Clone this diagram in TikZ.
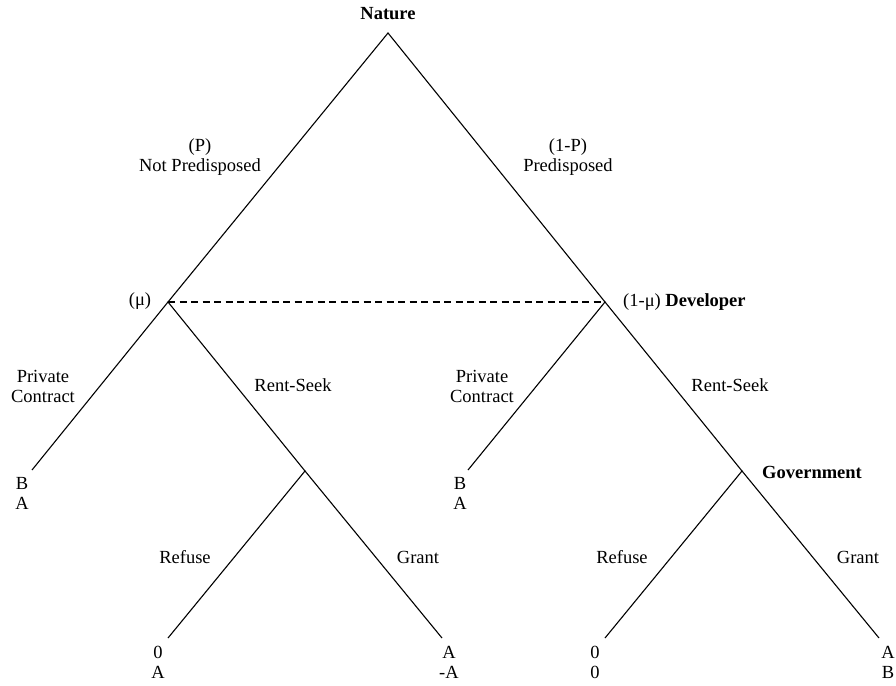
\documentclass[tikz,border=0pt]{standalone}
\usepackage{fontspec}
\setmainfont{Liberation Serif}
\begin{document}
\begin{tikzpicture}[x=1pt,y=-1pt,
  branch/.style={line width=1.1pt},
  info/.style={line width=1.1pt, dash pattern=on 7pt off 4.5pt},
  lbl/.style={inner sep=0pt, align=center, font=\fontsize{18.5}{20}\selectfont},
  pay/.style={lbl},
  player/.style={inner sep=0pt, font=\fontsize{18.5}{20}\selectfont\bfseries}]
\useasboundingbox (0,0) rectangle (896,685);
% vertices
\coordinate (N) at (388,33);
\coordinate (L) at (168,302);
\coordinate (R) at (605,302);
\coordinate (LPC) at (32,470);
\coordinate (RPC) at (468,470);
\coordinate (LG) at (305,471);
\coordinate (RG) at (742,471);
\coordinate (LRf) at (168,638);
\coordinate (LGr) at (442,638);
\coordinate (RRf) at (605,638);
\coordinate (RGr) at (879,638);
% branches
\draw[branch] (L) -- (N) -- (R);
\draw[branch] (LPC) -- (L) -- (LG);
\draw[branch] (LRf) -- (LG) -- (LGr);
\draw[branch] (RPC) -- (R) -- (RG);
\draw[branch] (RRf) -- (RG) -- (RGr);
\draw[info] (L) -- (R);
% players
\node[player] (nature) at (388,14) {Nature};
\node[lbl, anchor=west] (dev) at (623,302) {(1-μ) \textbf{Developer}};
\node[player, anchor=west] (gov) at (762,472) {Government};
\node[lbl] (mu) at (140,301) {(μ)};
% move labels
\node[lbl] (np) at (200,157) {(P)\\Not Predisposed};
\node[lbl] (pd) at (568,157) {(1-P)\\Predisposed};
\node[lbl] (pcl) at (43,386) {Private\\Contract};
\node[lbl] (pcr) at (482,386) {Private\\Contract};
\node[lbl] (rsl) at (293,385) {Rent-Seek};
\node[lbl] (rsr) at (730,385) {Rent-Seek};
\node[lbl] (rfl) at (185,557) {Refuse};
\node[lbl] (grl) at (418,557) {Grant};
\node[lbl] (rfr) at (622,557) {Refuse};
\node[lbl] (grr) at (858,557) {Grant};
% payoffs
\node[pay] (p1) at (22,493) {B\\A};
\node[pay] (p2) at (460,493) {B\\A};
\node[pay] (p3) at (158,662) {0\\A};
\node[pay] (p4) at (449,662) {A\\-A};
\node[pay] (p5) at (595,662) {0\\0};
\node[pay] (p6) at (888,662) {A\\B};
\end{tikzpicture}
\end{document}
